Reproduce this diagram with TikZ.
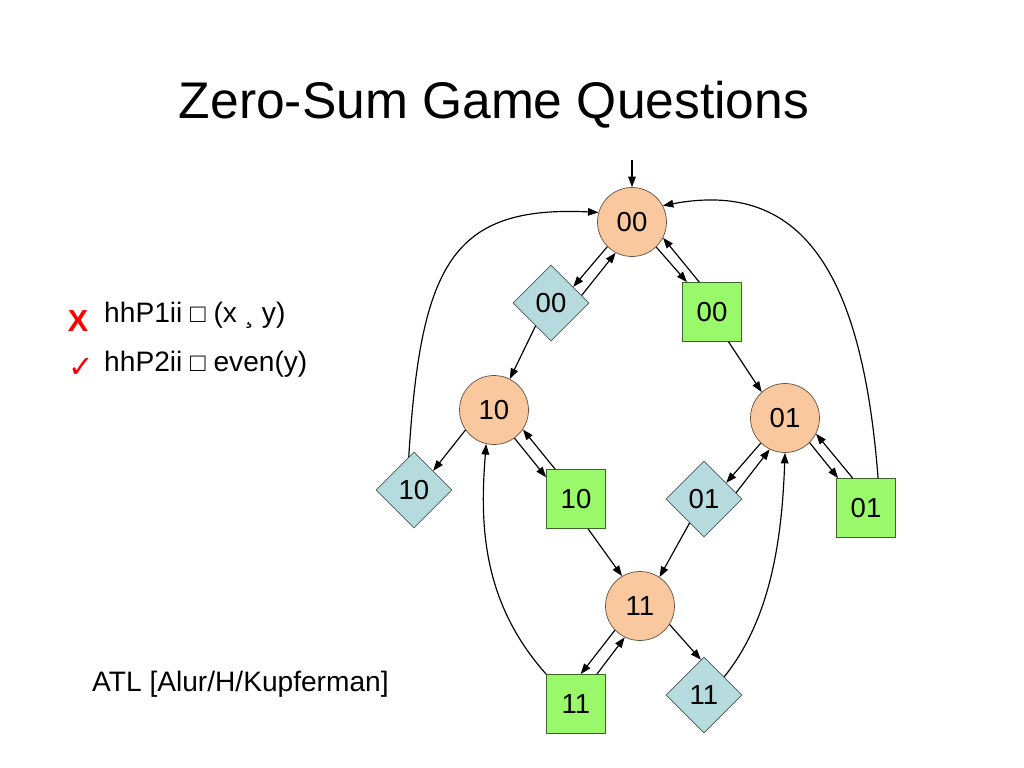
\documentclass[tikz,border=0pt]{standalone}
\usepackage{fontspec}
\setmainfont{Liberation Sans}
\newfontfamily\dejavu{DejaVu Sans}
\usetikzlibrary{shapes.geometric,arrows.meta}
\definecolor{peach}{HTML}{FAC89E}
\definecolor{lblue}{HTML}{B6DBDE}
\definecolor{lgreen}{HTML}{99F96A}
\begin{document}
\begin{tikzpicture}[x=0.03cm,y=-0.03cm,
  lbl/.style={font=\fontsize{23.5}{27}\selectfont},
  circ/.style={lbl,circle,fill=peach,draw=peach!40!black,line width=0.6pt,minimum size=2.07cm,inner sep=0pt},
  dia/.style={lbl,diamond,aspect=1,fill=lblue,draw=lblue!40!black,line width=0.6pt,minimum width=2.28cm,minimum height=2.28cm,inner sep=0pt},
  sq/.style={lbl,rectangle,fill=lgreen,draw=lgreen!40!black,line width=0.6pt,minimum size=1.77cm,inner sep=0pt},
  arr/.style={-{Triangle[length=9pt,width=6.5pt]},line width=1pt},
  txt/.style={anchor=base west,inner sep=0pt,font=\fontsize{24}{28}\selectfont}
]
\useasboundingbox (0,0) rectangle (1024,768);

\node[anchor=base,inner sep=0pt,font=\fontsize{44}{50}\selectfont] (title) at (494,119) {Zero-Sum Game Questions};

\node[inner sep=0pt,text=red,font=\fontsize{26}{30}\selectfont\bfseries] (xmark) at (78,321) {X};
\node[inner sep=0pt,text=red,font=\dejavu\fontsize{26}{30}\selectfont] (cmark) at (81,368) {✓};
\node[txt] (q1) at (104,323) {hhP1ii {\fontsize{22}{26}\selectfont □} (x ¸ y)};
\node[txt] (q2) at (104,372) {hhP2ii {\fontsize{22}{26}\selectfont □} even(y)};
\node[txt] (atl) at (92,691) {ATL [Alur/H/Kupferman]};

% states
\node[circ] (c00) at (632,222) {00};
\node[circ] (c10) at (494,410) {10};
\node[circ] (c01) at (785,418) {01};
\node[circ] (c11) at (640,606) {11};
\node[dia] (d00) at (551,303) {00};
\node[dia] (d10) at (414,490) {10};
\node[dia] (d01) at (704,499) {01};
\node[dia] (d11) at (704,695) {11};
\node[sq] (s00) at (712,312) {00};
\node[sq] (s10) at (576,499) {10};
\node[sq] (s01) at (866,508) {01};
\node[sq] (s11) at (576,704) {11};

\coordinate (init) at (632,160);
\draw[arr] (init) -- (c00);

% 00
\draw[arr] (c00.225) -- (d00.36);
\draw[arr] (d00.14) -- (c00.242);
\draw[arr] (c00.314) -- (s00.130);
\draw[arr] (s00.113) -- (c00.333);
\draw[arr] (d00.236) -- (c10.63);
\draw[arr] (s00.299) -- (c01.132);

% 10
\draw[arr] (c10.215) -- (d10.45);
\draw[arr] (c10.306) -- (s10.144);
\draw[arr] (s10.125) -- (c10.326);
\draw[arr] (s10.292) -- (c11.121);

% 01
\draw[arr] (c01.226) -- (d01.36);
\draw[arr] (d01.11) -- (c01.244);
\draw[arr] (c01.315) -- (s01.133);
\draw[arr] (s01.114) -- (c01.333);
\draw[arr] (d01.239) -- (c11.56);

% 11
\draw[arr] (c11.224) -- (s11.81);
\draw[arr] (s11.55) -- (c11.244);
\draw[arr] (c11.328) -- (d11.95);

% long curves
\draw[arr] (d10.99) .. controls +(12,-192) and +(-147,-7) .. (c00.164);
\draw[arr] (s01.68) .. controls +(-16,-208) and +(138,-26) .. (c00.28);
\draw[arr] (s11.north west) .. controls +(-66,-74) and +(-6,76) .. (c10.257);
\draw[arr] (d11.42) .. controls +(46,-57) and +(-3,88) .. (c01.270);
\end{tikzpicture}
\end{document}
